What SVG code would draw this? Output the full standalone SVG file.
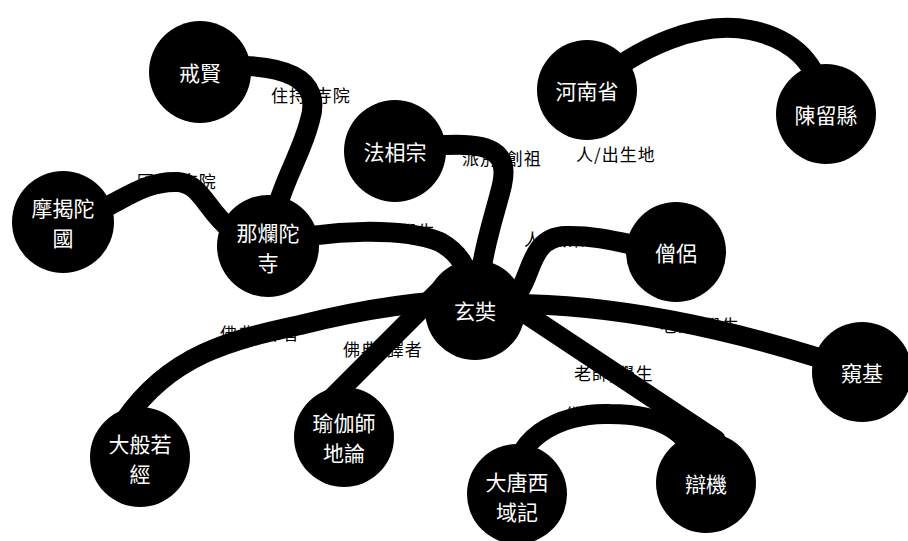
<svg xmlns="http://www.w3.org/2000/svg" width="908" height="541" viewBox="0 0 908 541">
<style>
.bg{fill:#ffffff}
.lbl{font-family:"Noto Sans CJK TC","Noto Sans CJK SC",sans-serif;font-size:17px;letter-spacing:1px;fill:#000}
.edge{fill:none;stroke:#000;stroke-width:20;stroke-linecap:round}
.node circle{fill:#000}
.node text{font-family:"Noto Sans CJK TC","Noto Sans CJK SC",sans-serif;font-size:21px;fill:#fff;text-anchor:middle;dominant-baseline:central}
</style>
<rect class="bg" x="0" y="0" width="908" height="541"/>
<g id="labels">
<text class="lbl" x="271" y="102">住持/寺院</text>
<text class="lbl" x="137" y="188">國家/寺院</text>
<text class="lbl" x="462" y="165">派別/創祖</text>
<text class="lbl" x="576" y="161">人/出生地</text>
<text class="lbl" x="356" y="238">寺院/學生</text>
<text class="lbl" x="524" y="246">人/職業</text>
<text class="lbl" x="220" y="340">佛典/譯者</text>
<text class="lbl" x="343" y="356">佛典/譯者</text>
<text class="lbl" x="660" y="332">老師/學生</text>
<text class="lbl" x="574" y="380">老師/學生</text>
<text class="lbl" x="565" y="421">佛典/作者</text>
</g>
<g id="connectors">
<path class="edge" d="M200,67 C290,60 322,80 310,120 C300,160 280,180 268,245"/>
<path class="edge" d="M63,222 C110,215 135,180 178,182 C210,184 208,235 268,245"/>
<path class="edge" d="M395,150 C472,140 512,140 502,185 C495,215 484,240 475,310"/>
<path class="edge" d="M268,245 C330,228 405,228 440,242 C458,252 468,265 475,300"/>
<path class="edge" d="M505,300 C535,295 522,237 566,236 C610,235 640,250 678,252"/>
<path class="edge" d="M587,90 C640,45 700,20 750,30 C790,38 820,60 826,114"/>
<path class="edge" d="M475,305 C600,298 740,330 862,372"/>
<path class="edge" d="M478,282 L716,440"/>
<path class="edge" d="M517,493 C505,440 560,412 610,414 C660,414 695,430 706,483"/>
<path class="edge" d="M125,420 C170,355 230,340 300,325 C360,310 420,300 475,300"/>
<path class="edge" d="M330,400 L445,285"/>
</g>
<g id="n-jiexian" class="node"><circle cx="200" cy="72" r="51"/><text x="200" y="72">戒賢</text></g>
<g id="n-faxiangzong" class="node"><circle cx="395" cy="151" r="51"/><text x="395" y="151">法相宗</text></g>
<g id="n-mojietuo" class="node"><circle cx="63" cy="222" r="51"/><text x="63" y="207">摩揭陀</text><text x="63" y="237">國</text></g>
<g id="n-nalantuo" class="node"><circle cx="268" cy="246" r="51"/><text x="268" y="232">那爛陀</text><text x="268" y="262">寺</text></g>
<g id="n-henan" class="node"><circle cx="587" cy="90" r="50"/><text x="587" y="90">河南省</text></g>
<g id="n-chenliu" class="node"><circle cx="826" cy="114" r="50"/><text x="826" y="114">陳留縣</text></g>
<g id="n-sengl" class="node"><circle cx="676" cy="252" r="50"/><text x="676" y="252">僧侶</text></g>
<g id="n-xuanzang" class="node"><circle cx="475" cy="310" r="50"/><text x="475" y="310">玄奘</text></g>
<g id="n-kuiji" class="node"><circle cx="862" cy="372" r="50"/><text x="862" y="372">窺基</text></g>
<g id="n-dabore" class="node"><circle cx="140" cy="457" r="50"/><text x="140" y="443">大般若</text><text x="140" y="473">經</text></g>
<g id="n-yuqie" class="node"><circle cx="344" cy="437" r="50"/><text x="344" y="422">瑜伽師</text><text x="344" y="452">地論</text></g>
<g id="n-datang" class="node"><circle cx="517" cy="494" r="50"/><text x="517" y="481">大唐西</text><text x="517" y="511">域記</text></g>
<g id="n-bianji" class="node"><circle cx="706" cy="483" r="50"/><text x="706" y="483">辯機</text></g>
</svg>
